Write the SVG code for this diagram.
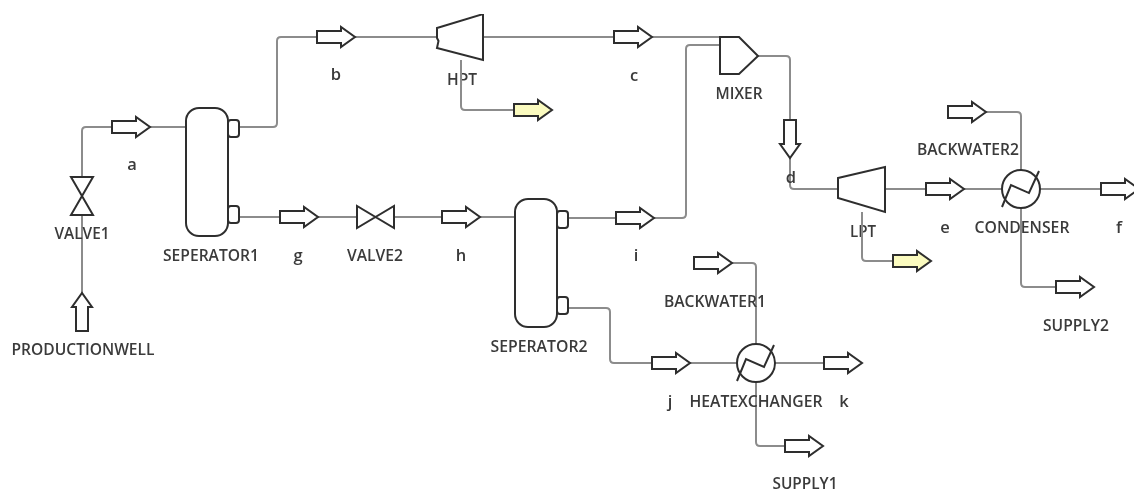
<svg xmlns="http://www.w3.org/2000/svg" width="1134" height="492" viewBox="0 0 1134 492">
<style>
.c{fill:none;stroke:#8c8c8c;stroke-width:2;stroke-linejoin:round}
.s{fill:#fff;stroke:#2e2e2e;stroke-width:2;stroke-linejoin:miter}
.y{fill:#fbfbbf;stroke:#2e2e2e;stroke-width:2}
.n{fill:none;stroke:#2e2e2e;stroke-width:2}
text{font-family:"Open Sans","Noto Sans",sans-serif;font-size:16.5px;font-weight:600;fill:#3a3a3a;text-anchor:middle}
</style>
<defs>
<filter id="soft" x="0" y="0" width="1" height="1"><feGaussianBlur stdDeviation="0.5"/></filter>
<path id="arr" d="M0-6H24V-10L38 0L24 10V6H0Z"/>
<g id="hx"><circle class="s" r="19"/><path class="n" d="M-19 18L-10-4L8 4L18-18"/></g>
</defs>
<rect width="1134" height="492" fill="#fff"/>
<g filter="url(#soft)">
<g id="connectors">
<path class="c" d="M82 293V131Q82 127 86 127H112M150 127H186"/>
<path class="c" d="M239 127H273Q277 127 277 123V41Q277 37 281 37H317M355 37H437"/>
<path class="c" d="M239 217H280M318 217H357M395 217H442M480 217H515"/>
<path class="c" d="M483 37H614M652 37H720"/>
<path class="c" d="M568 218H616M654 218H682Q686 218 686 214V49Q686 45 690 45H720"/>
<path class="c" d="M568 308H606Q610 308 610 312V359Q610 363 614 363H652M690 363H737M775 363H824"/>
<path class="c" d="M732 263H752Q756 263 756 267V344M756 382V442Q756 446 760 446H785"/>
<path class="c" d="M758 56H786Q790 56 790 60V120M790 157V185Q790 189 794 189H838"/>
<path class="c" d="M885 189H926M964 189H1002M1040 189H1101"/>
<path class="c" d="M986 112H1017Q1021 112 1021 116V170M1021 208V283Q1021 287 1025 287H1056"/>
</g>
<g id="productionwell"><use href="#arr" class="s" transform="translate(82 331) rotate(-90)"/><text x="83" y="355" textLength="143" lengthAdjust="spacingAndGlyphs">PRODUCTIONWELL</text></g>
<g id="valve1"><path class="s" d="M71 177H93L71 215H93Z"/><text x="82" y="239" textLength="55" lengthAdjust="spacingAndGlyphs">VALVE1</text></g>
<g id="stream-a"><use href="#arr" class="s" x="112" y="127"/><text x="132" y="170">a</text></g>
<g id="seperator1"><rect class="s" x="228" y="120" width="11" height="17" rx="3"/><rect class="s" x="228" y="206" width="11" height="17" rx="3"/><rect class="s" x="186" y="108" width="42" height="128" rx="13"/><text x="211" y="261" textLength="96" lengthAdjust="spacingAndGlyphs">SEPERATOR1</text></g>
<g id="stream-b"><use href="#arr" class="s" x="317" y="37"/><text x="336" y="80">b</text></g>
<g id="hpt"><path class="s" d="M437 28L483 14V60L437 48L438.500 41L437 38Z"/><text x="462" y="85" textLength="30" lengthAdjust="spacingAndGlyphs">HPT</text></g>
<g id="hpt-work"><path class="c" d="M461 60V106Q461 110 465 110H514"/><use href="#arr" class="y" x="514" y="110"/></g>
<g id="stream-c"><use href="#arr" class="s" x="614" y="37"/><text x="634" y="81">c</text></g>
<g id="mixer"><path class="s" d="M720 37H739L758 56L739 74H720Z"/><text x="739" y="99" textLength="47" lengthAdjust="spacingAndGlyphs">MIXER</text></g>
<g id="stream-d"><use href="#arr" class="s" transform="translate(790 120) rotate(90)"/><text x="791" y="183">d</text></g>
<g id="stream-g"><use href="#arr" class="s" x="280" y="217"/><text x="298" y="261">g</text></g>
<g id="valve2"><path class="s" d="M357 206V228L394 206V228Z"/><text x="375" y="261" textLength="56" lengthAdjust="spacingAndGlyphs">VALVE2</text></g>
<g id="stream-h"><use href="#arr" class="s" x="442" y="217"/><text x="461" y="261">h</text></g>
<g id="seperator2"><rect class="s" x="557" y="211" width="11" height="17" rx="3"/><rect class="s" x="557" y="297" width="11" height="17" rx="3"/><rect class="s" x="515" y="199" width="42" height="128" rx="13"/><text x="539" y="352" textLength="97" lengthAdjust="spacingAndGlyphs">SEPERATOR2</text></g>
<g id="stream-i"><use href="#arr" class="s" x="616" y="218"/><text x="636" y="261">i</text></g>
<g id="lpt"><path class="s" d="M838 178L885 167V212L838 198Z"/><text x="863" y="237" textLength="26" lengthAdjust="spacingAndGlyphs">LPT</text></g>
<g id="lpt-work"><path class="c" d="M862 212V257Q862 261 866 261H893"/><use href="#arr" class="y" x="893" y="261"/></g>
<g id="stream-e"><use href="#arr" class="s" x="926" y="189"/><text x="945" y="233">e</text></g>
<g id="condenser"><use href="#hx" x="1021" y="189"/><text x="1022" y="233" textLength="95" lengthAdjust="spacingAndGlyphs">CONDENSER</text></g>
<g id="stream-f"><use href="#arr" class="s" x="1101" y="189"/><text x="1119" y="233">f</text></g>
<g id="backwater2"><use href="#arr" class="s" x="948" y="112"/><text x="968" y="155" textLength="102" lengthAdjust="spacingAndGlyphs">BACKWATER2</text></g>
<g id="supply2"><use href="#arr" class="s" x="1056" y="287"/><text x="1076" y="331" textLength="66" lengthAdjust="spacingAndGlyphs">SUPPLY2</text></g>
<g id="backwater1"><use href="#arr" class="s" x="694" y="263"/><text x="715" y="307" textLength="102" lengthAdjust="spacingAndGlyphs">BACKWATER1</text></g>
<g id="stream-j"><use href="#arr" class="s" x="652" y="363"/><text x="670" y="407">j</text></g>
<g id="heatexchanger"><use href="#hx" x="756" y="363"/><text x="756" y="407" textLength="133" lengthAdjust="spacingAndGlyphs">HEATEXCHANGER</text></g>
<g id="stream-k"><use href="#arr" class="s" x="824" y="363"/><text x="844" y="407">k</text></g>
<g id="supply1"><use href="#arr" class="s" x="785" y="446"/><text x="805" y="489" textLength="65" lengthAdjust="spacingAndGlyphs">SUPPLY1</text></g>
</g>
</svg>
